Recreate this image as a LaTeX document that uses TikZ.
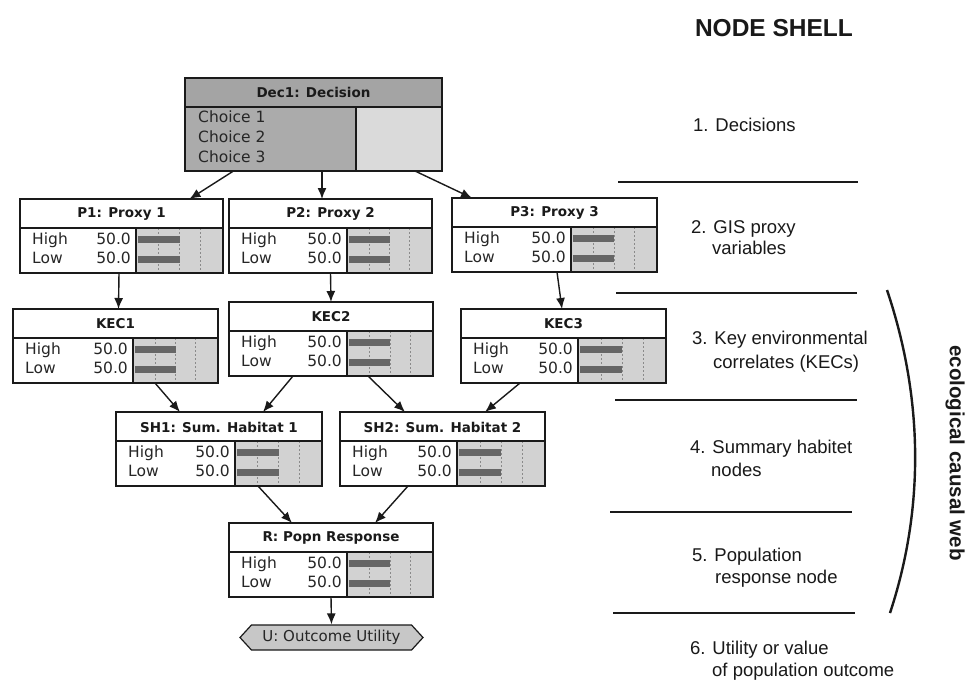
\documentclass[tikz,border=0pt]{standalone}
\usepackage{fontspec}
\setmainfont{Liberation Sans}
\newfontfamily\dv{DejaVu Sans}
\usetikzlibrary{shapes.symbols,arrows.meta}
\definecolor{barbg}{HTML}{D2D2D2}
\definecolor{barfg}{HTML}{666666}
\definecolor{gridc}{HTML}{8A8A8A}
\definecolor{dectitle}{HTML}{A4A4A4}
\definecolor{decleft}{HTML}{ABABAB}
\definecolor{decright}{HTML}{DADADA}
\definecolor{ink}{HTML}{1A1A1A}
\tikzset{
  x=1pt, y=-1pt,
  frame/.style={draw=ink, line width=1.3pt},
  arr/.style={-{Latex[length=11pt,width=9pt]}, line width=1.4pt, draw=ink},
  ttl/.style={font=\dv\bfseries\fontsize{13.5}{15}\selectfont, text=ink, inner sep=0pt},
  rowtxt/.style={font=\dv\fontsize{15.5}{17}\selectfont, text=black!85, inner sep=0pt, text height=11pt, text depth=3pt},
  side/.style={font=\fontsize{18.5}{21}\selectfont, text=black!90, inner sep=0pt, anchor=base west, text height=13pt, text depth=0pt},
  sepline/.style={draw=ink, line width=2.4pt},
  shellbox/.style={draw=none, inner sep=0pt, outer sep=0pt, anchor=north west}
}
\newcommand{\netnode}[6]{%
  \node[shellbox, minimum width=#4pt, minimum height=74pt] (#1) at (#2,#3) {};
  \begin{scope}[shift={(#1.north west)}]
    \pgfmathsetmacro{\bS}{#5+2}
    \pgfmathsetmacro{\bL}{#4-#5-4}
    \fill[white] (0,0) rectangle (#4,74);
    \fill[barbg] (#5,29) rectangle (#4,74);
    \foreach \f in {0.25,0.5,0.75}{
      \draw[gridc, line width=0.6pt, dash pattern=on 2pt off 2pt] ({\bS+\f*\bL},29) -- ({\bS+\f*\bL},74);
    }
    \fill[barfg] (\bS,37) rectangle ({\bS+0.5*\bL},44);
    \fill[barfg] (\bS,56.5) rectangle ({\bS+0.5*\bL},63.5);
    \draw[frame] (0,29) -- (#4,29);
    \draw[frame] (#5,29) -- (#5,74);
    \draw[frame] (0,0) rectangle (#4,74);
    \node[ttl] (#1-t) at ({#4/2},15) {#6};
    \node[rowtxt, anchor=west] (#1-h) at (12,41) {High};
    \node[rowtxt, anchor=east] (#1-hv) at ({#5-5},41) {50.0};
    \node[rowtxt, anchor=west] (#1-l) at (12,60) {Low};
    \node[rowtxt, anchor=east] (#1-lv) at ({#5-5},60) {50.0};
  \end{scope}
}
\begin{document}
\begin{tikzpicture}
\useasboundingbox (0,0) rectangle (966,681);
\fill[white] (0,0) rectangle (966,681);

% Decision node
\node[shellbox, minimum width=257pt, minimum height=93pt] (dec) at (185,78) {};
\begin{scope}[shift={(dec.north west)}]
  \fill[dectitle] (0,0) rectangle (257,29);
  \fill[decleft] (0,29) rectangle (171,93);
  \fill[decright] (171,29) rectangle (257,93);
  \draw[frame] (0,29) -- (257,29);
  \draw[frame] (171,29) -- (171,93);
  \draw[frame] (0,0) rectangle (257,93);
  \node[ttl] (dec-t) at (128.5,14.5) {Dec1: Decision};
  \node[rowtxt, anchor=west, text=black!85] (dec-c1) at (13,40) {Choice 1};
  \node[rowtxt, anchor=west, text=black!85] (dec-c2) at (13,60) {Choice 2};
  \node[rowtxt, anchor=west, text=black!85] (dec-c3) at (13,80) {Choice 3};
\end{scope}

\netnode{p1}{20}{199}{203}{116}{P1: Proxy 1}
\netnode{p2}{229}{199}{203}{118}{P2: Proxy 2}
\netnode{p3}{452}{198}{205}{119}{P3: Proxy 3}
\netnode{kec1}{13}{309}{205}{120}{KEC1}
\netnode{kec2}{229}{302}{204}{118}{KEC2}
\netnode{kec3}{461}{309}{205}{117}{KEC3}
\netnode{sh1}{116}{412}{206}{119}{SH1: Sum. Habitat 1}
\netnode{sh2}{340}{412}{205}{117}{SH2: Sum. Habitat 2}
\netnode{r}{229}{523}{204}{118}{R: Popn Response}

% Utility node
\node[signal, signal to=east and west, signal pointer angle=95, fill=black!22, draw=ink, line width=1.2pt,
      minimum width=183pt, minimum height=25pt, inner sep=0pt,
      font=\dv\fontsize{15}{17}\selectfont, text=black!85] (u) at (331.5,637.5) {U: Outcome Utility};

% connectors
\draw[arr] ([xshift=-80pt]dec.south) -- ([xshift=68pt]p1.north);
\draw[arr] ([xshift=8.5pt]dec.south) -- ([xshift=-8.5pt]p2.north);
\draw[arr] ([xshift=101.5pt]dec.south) -- ([xshift=-82.5pt]p3.north);
\draw[arr] ([xshift=-2.5pt]p1.south) -- ([xshift=3pt]kec1.north);
\draw[arr] (p2.south) -- (kec2.north);
\draw[arr] ([xshift=2.5pt]p3.south) -- ([xshift=-1.5pt]kec3.north);
\draw[arr] ([xshift=39.5pt]kec1.south) -- ([xshift=-39pt]sh1.north);
\draw[arr] ([xshift=-38pt]kec2.south) -- ([xshift=44pt]sh1.north);
\draw[arr] ([xshift=37pt]kec2.south) -- ([xshift=-37.5pt]sh2.north);
\draw[arr] ([xshift=-43.5pt]kec3.south) -- ([xshift=42.5pt]sh2.north);
\draw[arr] ([xshift=39pt]sh1.south) -- ([xshift=-39pt]r.north);
\draw[arr] ([xshift=-34.5pt]sh2.south) -- ([xshift=44pt]r.north);
\draw[arr] (r.south) -- (u.north);

% right-hand legend
\node[font=\bfseries\fontsize{24.5}{28}\selectfont, text=black!90, inner sep=0pt] (shell) at (774,28) {NODE SHELL};
\node[side] (s1) at (693,131.5) {1. Decisions};
\node[side] (s2a) at (691,233.5) {2. GIS proxy};
\node[side] (s2b) at (712,254.5) {variables};
\node[side] (s3a) at (692,344.5) {3. Key environmental};
\node[side] (s3b) at (713,368.5) {correlates (KECs)};
\node[side] (s4a) at (690,453.5) {4. Summary habitet};
\node[side] (s4b) at (711,476.5) {nodes};
\node[side] (s5a) at (692,561.5) {5. Population};
\node[side] (s5b) at (715,583.5) {response node};
\node[side] (s6a) at (690,654.5) {6. Utility or value};
\node[side] (s6b) at (712,676.5) {of population outcome};

\coordinate (l1a) at (618,182); \coordinate (l1b) at (858,182);
\coordinate (l2a) at (616,293); \coordinate (l2b) at (857,293);
\coordinate (l3a) at (615,400); \coordinate (l3b) at (857,400);
\coordinate (l4a) at (610,512); \coordinate (l4b) at (852,512);
\coordinate (l5a) at (613,613); \coordinate (l5b) at (855,613);
\draw[sepline] (l1a) -- (l1b);
\draw[sepline] (l2a) -- (l2b);
\draw[sepline] (l3a) -- (l3b);
\draw[sepline] (l4a) -- (l4b);
\draw[sepline] (l5a) -- (l5b);

\coordinate (arcA) at (887,290);
\coordinate (arcB) at (890,613);
\draw[draw=ink, line width=2.4pt] (arcA) .. controls (924,400) and (924,510) .. (arcB);
\node[font=\bfseries\fontsize{20.5}{23}\selectfont, text=black!90, rotate=-90, inner sep=0pt] (web) at (955,453) {ecological causal web};
\end{tikzpicture}
\end{document}
